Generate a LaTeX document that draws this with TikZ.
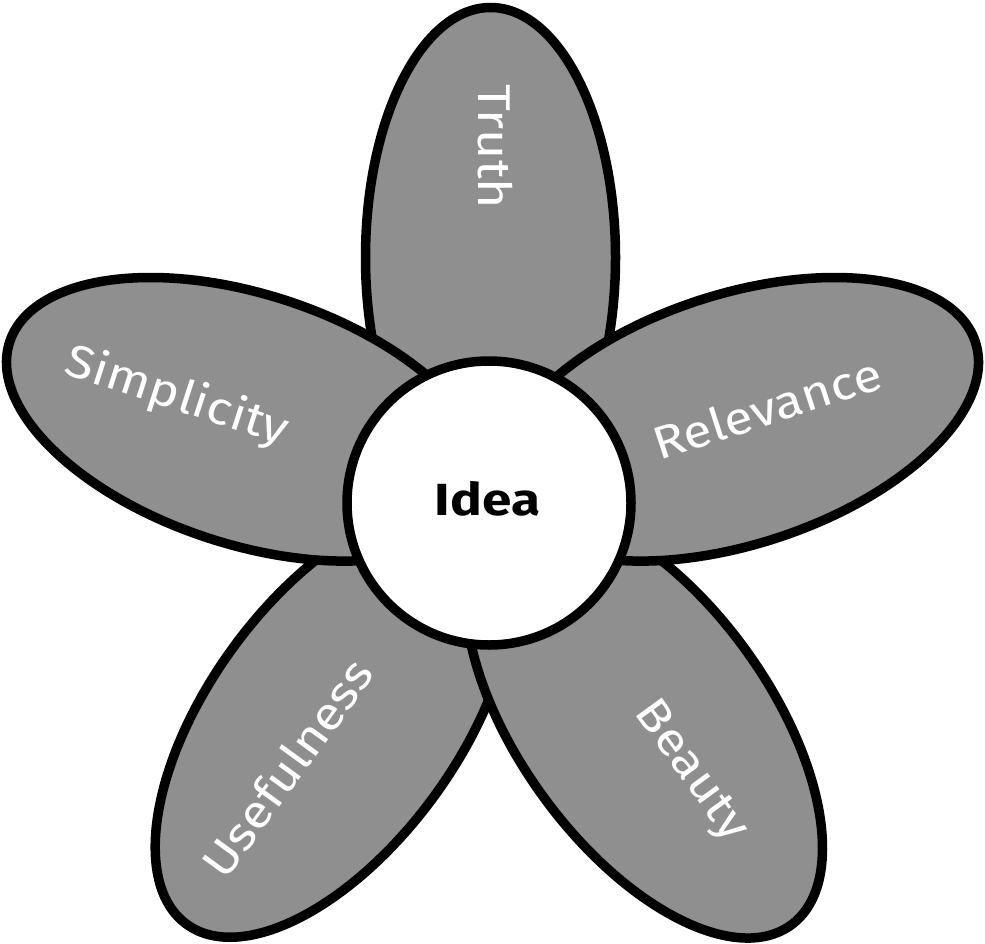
\documentclass[tikz,border=0pt]{standalone}
\usepackage{fontspec}
\setmainfont{Fira Sans}[FakeStretch=1.13]
\newfontfamily\ideafont{Fira Sans}[FakeStretch=1.18]
\usetikzlibrary{shapes.geometric}
\definecolor{petalgray}{RGB}{143,143,143}
\begin{document}
\begin{tikzpicture}[x=1pt,y=-1pt,
  petal/.style={ellipse, draw=black, fill=petalgray, line width=9.5pt,
    minimum width=500pt, minimum height=250pt, inner sep=0pt, outer sep=0pt},
  petallabel/.style={text=white, inner sep=0pt, font=\fontsize{46}{50}\selectfont},
  centre/.style={circle, draw=black, fill=white, line width=9.5pt,
    minimum size=284pt, inner sep=0pt},
  centrelabel/.style={inner sep=0pt, font=\ideafont\bfseries\fontsize{45}{48}\selectfont}
]
\useasboundingbox (0,0) rectangle (985,944);
% petals (drawing order gives the overlaps)
\node[petal, rotate=90]  (truth)      at (490.5,257.5) {};
\node[petal, rotate=54]  (usefulness) at (333.6,722.0) {};
\node[petal, rotate=-54] (beauty)     at (644.1,722.8) {};
\node[petal, rotate=18]  (relevance)  at (737.6,419.3) {};
\node[petal, rotate=-18] (simplicity) at (247.4,419.3) {};
% centre
\node[centre] (idea) at (489,503) {};
\node[centrelabel] (idealbl) at (487.5,498.5) {Idea};
% labels
\node[petallabel, rotate=-90] (truthlbl)      at (495,147) {Truth};
\node[petallabel, rotate=-18] (simplicitylbl) at (177,397) {Simplicity};
\node[petallabel, rotate=18]  (relevancelbl)  at (767,408) {Relevance};
\node[petallabel, rotate=54]  (usefulnesslbl) at (287,768) {Usefulness};
\node[petallabel, rotate=-54] (beautylbl)     at (690,772) {Beauty};
\end{tikzpicture}
\end{document}
